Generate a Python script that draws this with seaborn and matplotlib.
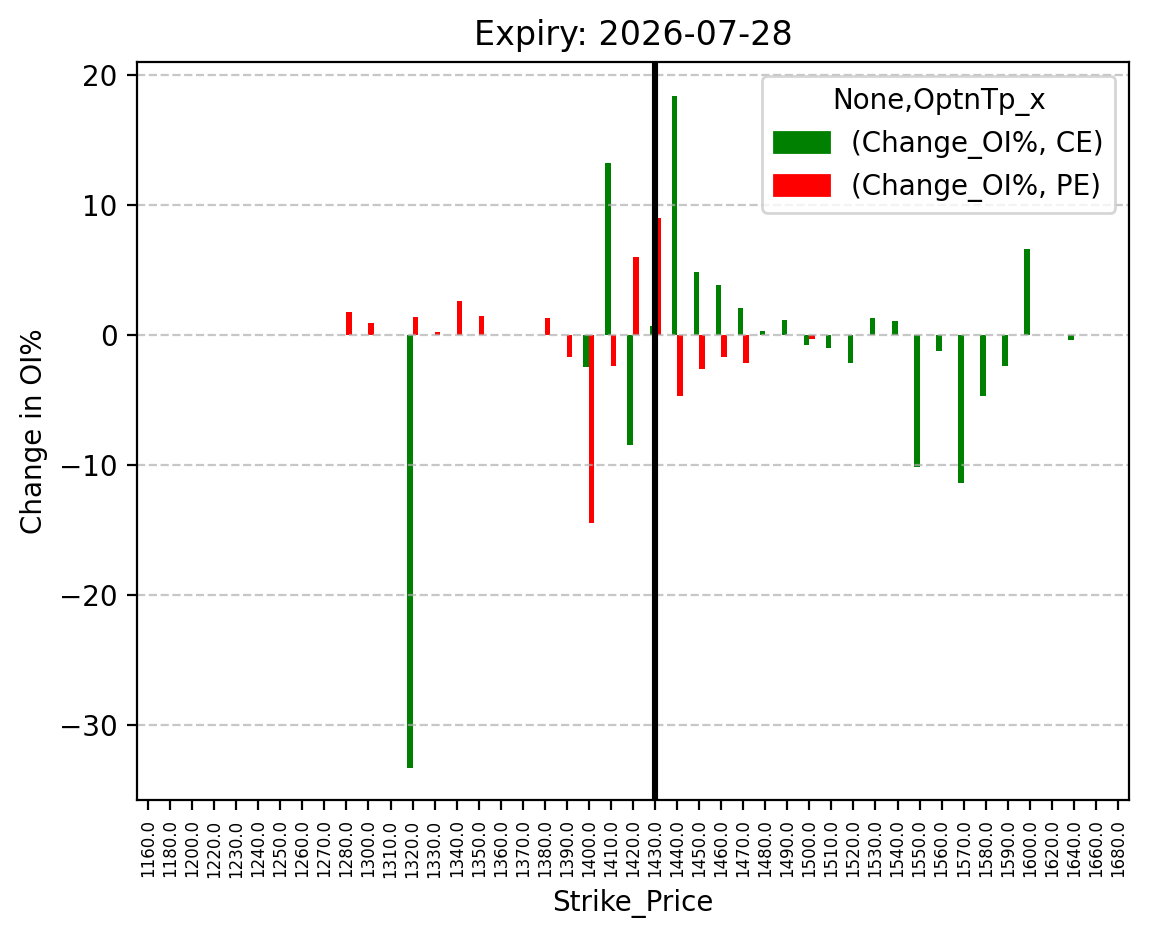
import numpy as np
import pandas as pd
import matplotlib
matplotlib.use("Agg")
import matplotlib.pyplot as plt
from matplotlib.patches import Patch
import seaborn as sns

nan = np.nan
strikes = [1160, 1180, 1200, 1220, 1230, 1240, 1250, 1260, 1270, 1280,
           1300, 1310, 1320, 1330, 1340, 1350, 1360, 1370, 1380, 1390,
           1400, 1410, 1420, 1430, 1440, 1450, 1460, 1470, 1480, 1490,
           1500, 1510, 1520, 1530, 1540, 1550, 1560, 1570, 1580, 1590,
           1600, 1620, 1640, 1660, 1680]
ce_change = [nan, nan, nan, nan, nan, nan, nan, nan, nan, nan,
             nan, nan, -33.3, nan, nan, nan, nan, nan, nan, nan,
             -2.46, 13.2, -8.46, 0.69, 18.4, 4.85, 3.82, 2.08, 0.31, 1.15,
             -0.77, -1.0, -2.15, 1.3, 1.08, -10.15, -1.23, -11.38, -4.69, -2.38,
             6.6, nan, -0.38, nan, nan]
pe_change = [nan, nan, nan, nan, nan, nan, nan, nan, nan, 1.77,
             0.92, nan, 1.38, 0.23, 2.6, 1.46, nan, nan, 1.3, -1.69,
             -14.5, -2.38, 6.0, 9.0, -4.69, -2.62, -1.69, -2.15, nan, nan,
             -0.31, nan, nan, nan, nan, nan, nan, nan, nan, nan,
             nan, nan, nan, nan, nan]
spot_strike = 1430
title = "Expiry: 2026-07-28"
legend_title = "None,OptnTp_x"
legend_labels = ["(Change_OI%, CE)", "(Change_OI%, PE)"]
colors = {"CE": "green", "PE": "red"}

labels = [f"{float(s):.1f}" for s in strikes]
df = pd.DataFrame({
    "Strike_Price": labels * 2,
    "OptnTp": ["CE"] * len(strikes) + ["PE"] * len(strikes),
    "Change": ce_change + pe_change,
}).dropna()

fig = plt.figure(figsize=(1149 / 200, 939 / 200), dpi=200)
ax = fig.add_axes([137 / 1149, 139 / 939, 992 / 1149, 738 / 939])

sns.barplot(data=df, x="Strike_Price", y="Change", hue="OptnTp",
            order=labels, hue_order=["CE", "PE"], palette=colors,
            width=0.5, errorbar=None, legend=False, ax=ax,
            linewidth=0, saturation=1)

ax.set_xlim(-0.5, len(strikes) - 0.5)
ax.set_ylim(-35.77, 21.0)
ax.axvline(labels.index(f"{float(spot_strike):.1f}"), color="black", linewidth=2.2)
ax.grid(axis="y", linestyle="--", alpha=0.7)
ax.tick_params(axis="x", labelrotation=90, labelsize=6)
ax.set_xlabel("Strike_Price")
ax.set_ylabel("Change in OI%")
ax.set_title(title, fontsize=12)

handles = [Patch(color=colors["CE"]), Patch(color=colors["PE"])]
ax.legend(handles, legend_labels, title=legend_title, loc="upper right")

fig.savefig("out.png", dpi=200)
